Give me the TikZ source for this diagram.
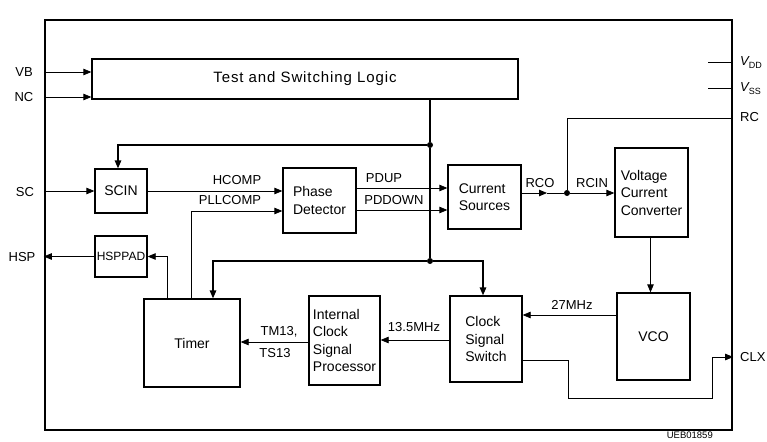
\documentclass[tikz,border=0pt]{standalone}
\usepackage{fontspec}
\setmainfont{Liberation Sans}
\usetikzlibrary{arrows.meta}
\begin{document}
\begin{tikzpicture}[x=1pt,y=-1pt,
  every node/.style={font=\fontsize{14}{17.5}\selectfont},
  blk/.style={draw, line width=1.3pt, inner sep=2pt, align=left},
  frame/.style={draw, line width=2.4pt},
  sig/.style={line width=0.8pt},
  bus/.style={line width=1.5pt},
  arr/.style={-{Triangle[length=8pt,width=6.5pt]}},
  lbl/.style={font=\fontsize{13}{15}\selectfont, inner sep=0pt},
  jdot/.style={circle, fill, inner sep=0pt, minimum size=6pt},
]
\useasboundingbox (0,0) rectangle (767,441);
% chip outline
\node[frame, minimum width=687pt, minimum height=410pt] (chip) at (388.5,225) {};

% blocks
\node[blk, minimum width=426pt, minimum height=40pt, font=\fontsize{15}{17}\selectfont\addfontfeature{LetterSpace=6}] (tsl) at (305,79) {Test and Switching Logic};
\node[blk, minimum width=52pt, minimum height=44pt] (scin) at (121,191) {SCIN};
\node[blk, minimum width=52pt, minimum height=41pt, font=\fontsize{12}{14}\selectfont, inner sep=0pt] (hsppad) at (121,256.5) {HSPPAD};
\node[blk, minimum width=73pt, minimum height=65pt] (pd) at (319.5,200.5) {Phase\\Detector};
\node[blk, minimum width=73pt, minimum height=64pt] (cs) at (484.5,197) {Current\\Sources};
\node[blk, minimum width=73pt, minimum height=89pt] (vcc) at (651.5,192.5) {Voltage\\Current\\Converter};
\node[blk, minimum width=73pt, minimum height=87pt] (vco) at (653.5,336.5) {VCO};
\node[blk, minimum width=72pt, minimum height=86pt] (css) at (486,339) {Clock\\Signal\\Switch};
\node[blk, minimum width=71pt, minimum height=89pt] (icsp) at (344.5,340.5) {Internal\\Clock\\Signal\\Processor};
\node[blk, minimum width=96pt, minimum height=88pt] (timer) at (192,343) {Timer};

% junctions
\node[jdot] (j1) at (430,145) {};
\node[jdot] (j2) at (430,261) {};
\node[jdot] (j3) at (567,193) {};

% control bus from test logic
\draw[bus] (tsl.south -| j1) -- (j1);
\draw[bus] (j1) -- (j2);
\draw[bus, arr] (j1) -| ([xshift=-3pt]scin.north);
\draw[bus, arr] (j2) -| ([xshift=-3pt]css.north);
\draw[bus, arr] (j2) -| ([xshift=21pt]timer.north);

% pins left
\coordinate (vbpin) at (chip.west |- 0,72);
\coordinate (ncpin) at (chip.west |- 0,97);
\draw[sig, arr] (vbpin) -- (vbpin -| tsl.west);
\draw[sig, arr] (ncpin) -- (ncpin -| tsl.west);
\draw[sig, arr] (chip.west |- scin.west) -- (scin.west);
\draw[sig, arr] (hsppad.west) -- (chip.west |- hsppad.west);
\node[lbl] (vblbl) at (24,72) {VB};
\node[lbl] (nclbl) at (24,97) {NC};
\node[lbl] (sclbl) at (25,192) {SC};
\node[lbl] (hsplbl) at (22,257) {HSP};

% SCIN / Timer to phase detector
\draw[sig, arr] (scin.east) -- (pd.west |- scin.east);
\node[lbl] (hcomp) at (237,180) {HCOMP};
\draw[sig, arr] ([xshift=-1pt]timer.north) |- (pd.west |- 0,211);
\node[lbl] (pllcomp) at (230,200) {PLLCOMP};
\draw[sig, arr] ([xshift=-25pt]timer.north) |- (hsppad.east);

% phase detector to current sources
\draw[sig, arr] (pd.east |- 0,188) -- (cs.west |- 0,188);
\node[lbl] (pdup) at (384,178) {PDUP};
\draw[sig, arr] (pd.east |- 0,210) -- (cs.west |- 0,210);
\node[lbl] (pddown) at (394,200) {PDDOWN};

% RCO / RCIN / RC
\coordinate (rcomid) at (547,193);
\draw[sig, arr] (cs.east |- j3) -- (rcomid);
\draw[sig] (rcomid) -- (j3);
\draw[sig, arr] (j3) -- (vcc.west |- j3);
\node[lbl] (rco) at (540,183) {RCO};
\node[lbl] (rcin) at (592,183) {RCIN};
\draw[sig] (j3) |- (chip.east |- 0,118);
\node[lbl, anchor=west] (rclbl) at (740,117) {RC};

% supply pins
\coordinate (vddend) at (708,62);
\coordinate (vssend) at (708,88);
\draw[sig] (vddend) -- (chip.east |- vddend);
\draw[sig] (vssend) -- (chip.east |- vssend);
\node[lbl, anchor=west] (vddlbl) at (740,63) {\itshape V\upshape\raisebox{-3pt}{\fontsize{9}{9}\selectfont DD}};
\node[lbl, anchor=west] (vsslbl) at (740,89) {\itshape V\upshape\raisebox{-3pt}{\fontsize{9}{9}\selectfont SS}};

% VCC -> VCO
\draw[sig, arr] ([xshift=-1pt]vcc.south) -- ([xshift=-1pt]vcc.south |- vco.north);

% VCO -> clock switch
\draw[sig, arr] (vco.west |- 0,315) -- (css.east |- 0,315);
\node[lbl] (mhz27) at (572,305) {27MHz};

% clock switch -> ICSP -> timer
\draw[sig, arr] (css.west |- 0,340) -- (icsp.east |- 0,340);
\node[lbl] (mhz135) at (414,327) {13.5MHz};
\draw[sig, arr] (icsp.west |- 0,342) -- (timer.east |- 0,342);
\node[lbl] (tm13) at (279,332) {TM13,};
\node[lbl] (ts13) at (275,353) {TS13};

% CLX output
\coordinate (clxpin) at (chip.east |- 0,357);
\draw[sig, arr] (css.east |- 0,360) -| (568,398) -| (712,357) -- (clxpin);
\node[lbl, anchor=west] (clxlbl) at (740,357) {CLX};

\node[font=\fontsize{9.5}{11}\selectfont, anchor=east, inner sep=0pt] (code) at (713,435.5) {UEB01859};
\end{tikzpicture}
\end{document}
